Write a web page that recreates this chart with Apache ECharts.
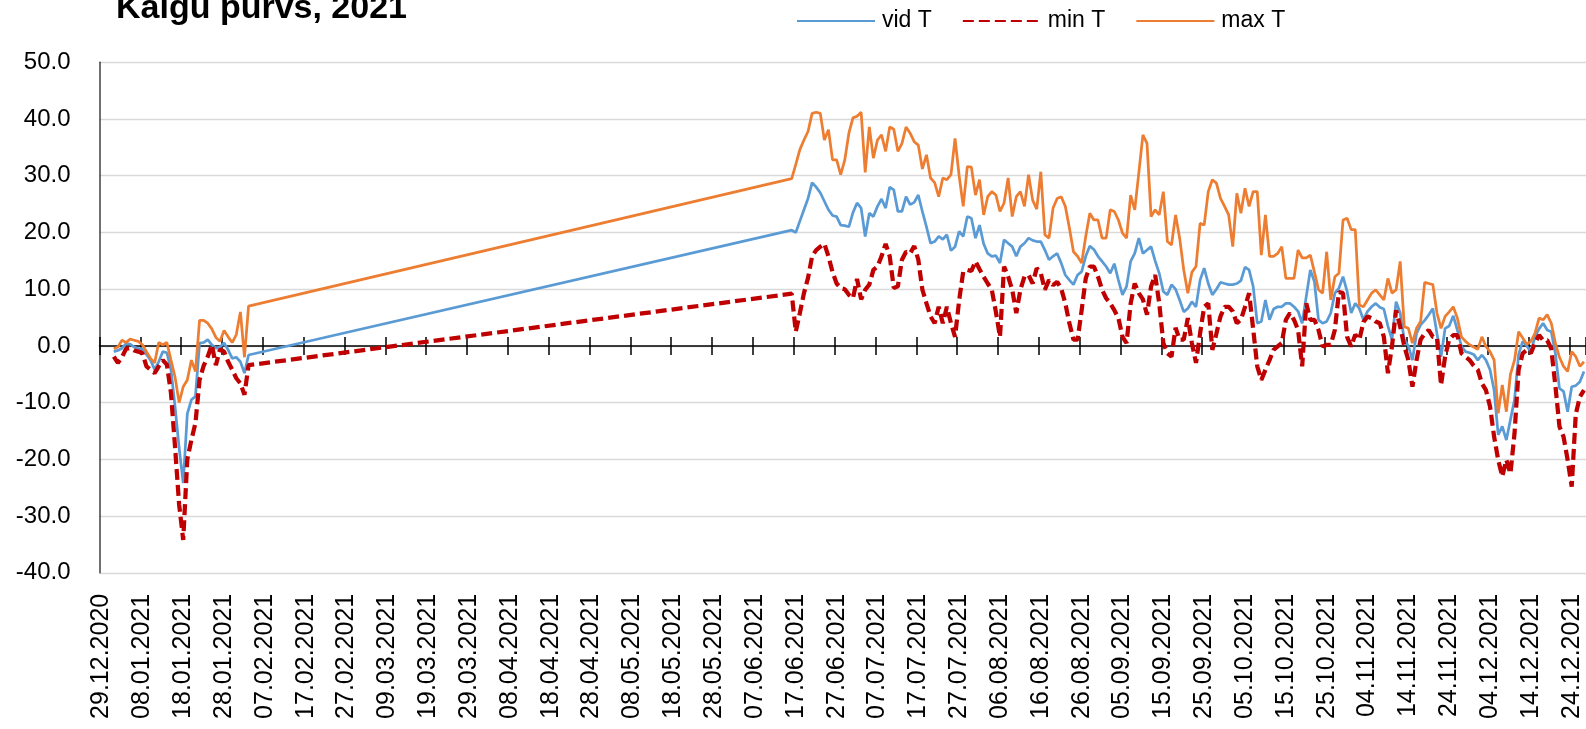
<!DOCTYPE html>
<html>
<head>
<meta charset="utf-8">
<script src="https://cdn.jsdelivr.net/npm/echarts/dist/echarts.min.js"></script>
<style>
html,body{margin:0;padding:0;background:#ffffff;}
#chart{width:1586px;height:729px;}
</style>
</head>
<body>
<div id="chart"></div>
<script>
// ---------------- data ----------------
const TITLE = 'Kalgu purvs, 2021';
const SERIES_NAMES = ['vid T', 'min T', 'max T'];
const AXIS_START = '29.12.2020';     // first category on the date axis
const AXIS_DAYS = 364;               // number of daily categories shown
const Y_MIN = -40, Y_MAX = 50, Y_STEP = 10;

// segment 1: 01.01.2021 – 03.02.2021
const SEG1_START = '01.01.2021';
const vidSeg1 = [-1.0, -0.8, -0.4, 0.4, 0.3, -0.2, -0.5, -0.5, -1.5, -2.5, -4.2, -2.8, -1.0, -1.2, -4.2, -10.7, -18.0, -24.2, -12.0, -9.5, -8.9, 0.5, 0.6, 1.1, 0.2, -0.4, -0.2, 0.5, -0.7, -2.2, -2.0, -2.8, -4.8, -1.6];
const minSeg1 = [-1.9, -3.0, -2.0, -0.5, -0.4, -0.8, -1.0, -1.3, -3.6, -4.2, -4.8, -3.6, -2.5, -3.3, -8.3, -17.8, -28.0, -34.2, -20.0, -16.6, -13.6, -6.0, -3.5, -1.9, 0.2, -3.4, -0.6, -1.0, -2.8, -4.2, -5.7, -6.6, -8.6, -3.4];
const maxSeg1 = [-0.5, -0.2, 1.0, 0.6, 1.2, 1.0, 0.8, 0.2, -1.0, -2.2, -3.0, 0.6, 0.2, 0.6, -2.5, -5.5, -10.0, -7.2, -6.0, -2.5, -4.5, 4.5, 4.5, 4.0, 3.0, 1.5, 0.8, 2.7, 1.6, 0.6, 2.0, 6.0, -2.0, 7.0];

// segment 2: 16.06.2021 – 26.12.2021
const SEG2_START = '16.06.2021';
const vidSeg2 = [
 20.4, 20, 22, 24, 26, 28.8, 28, 27, 25.5, 24,
 23, 22.8, 21.3, 21.2, 21, 23.5, 25.2, 24.3, 19.3, 23.4,
 22.8, 24.6, 25.9, 24.3, 28, 27.5, 23.7, 23.7, 26.3, 24.9,
 25.3, 26.6, 23.7, 21, 18.1, 18.4, 19.3, 18.8, 19.6, 16.8,
 17.5, 20.2, 19.3, 22.8, 22.5, 19, 21.3, 18, 16.3, 15.8,
 15.9, 14.6, 18.7, 18.1, 17.5, 15.8, 17.5, 18.1, 19, 18.6,
 18.4, 18.4, 16.9, 15.2, 15.8, 16.3, 14.6, 12.5, 11.6, 10.8,
 12.5, 13.1, 15.8, 17.6, 17, 15.8, 14.9, 14, 12.8, 14.5,
 11.6, 9, 10.5, 14.9, 16.3, 19, 16.3, 16.9, 17.5, 15,
 12.8, 9.6, 9, 10.8, 10, 8.1, 6, 6.6, 7.8, 6.9,
 11.6, 13.7, 11, 9, 10, 11.2, 11, 10.8, 10.8, 11,
 11.5, 13.9, 13.4, 10.5, 4, 4.3, 8.1, 4.6, 6.5, 6.9,
 6.9, 7.5, 7.5, 6.9, 6.1, 4, 8.7, 13.4, 11.3, 4.6,
 4, 4.3, 5.8, 9.3, 10.2, 12.2, 9.6, 5.8, 7.5, 6.6,
 4.6, 6.1, 6.9, 7.5, 6.8, 6.5, 3.5, 1.1, 7.8, 5.8,
 1.1, 0, -2.5, 2.2, 3.7, 4.5, 5.5, 6.6, 2.2, -1.9,
 3.1, 3.5, 5.3, 2.8, -0.1, -1, -1.2, -1.5, -2.5, -1.6,
 -2.5, -4.2, -7.8, -15.7, -14.2, -16.6, -13, -9.5, -1.5, 0.8,
 0, -1, 1.6, 3, 4, 2.8, 2.5, -1.3, -7.5, -8,
 -11.6, -7.2, -7, -6.3, -4.5
];
const minSeg2 = [
 9.2, 2.5, 5.8, 9.3, 12, 15.8, 16.9, 17.5, 18, 15.8,
 13, 11, 10.2, 10, 9, 8.4, 11.8, 8.2, 9.9, 10.8,
 13.4, 14, 15.8, 18, 15.8, 10.2, 10.5, 15.2, 16.6, 16.3,
 17.6, 15.2, 9.9, 7.5, 5.2, 4, 6.9, 4, 6.9, 4,
 1.6, 8, 13.1, 13.4, 13.2, 14.9, 13.5, 12.2, 11, 9.9,
 6, 1.6, 14, 12.2, 9.9, 5.8, 9.9, 12.2, 12.5, 11,
 13.7, 12.8, 9.9, 11.6, 10.7, 11.3, 10.1, 7.5, 4, 1.1,
 1.1, 6.3, 11.9, 14, 14, 12.2, 9.9, 8.4, 7.5, 6.3,
 4.9, 1.6, 0.5, 7.5, 11, 9.3, 8.2, 5.5, 10.5, 12.5,
 7.5, 0.5, -1.3, -1.9, 3.2, 1.1, 1.1, 4.9, 0.5, -3,
 2.2, 6.9, 7.5, -0.7, 2.2, 5.2, 6.9, 6.9, 6.1, 4,
 4.6, 6.9, 9.3, 3, -3.6, -6, -4.2, -2.5, -0.7, -0.1,
 0.5, 4.6, 5.8, 4.6, 2.8, -3.6, 7.5, 4.6, 4.6, 2.8,
 -0.1, 0.2, 0.2, 2.8, 9.5, 9.3, 1.6, -0.1, 2, 1.1,
 4.2, 5.2, 4.9, 4.3, 4, 1.6, -4.8, 0, 6.3, 3.4,
 0, -2.5, -7.2, -2.5, 1.1, 2.2, 2.8, 1.6, 1.5, -6.9,
 -1.9, 1.1, 1.9, 1.9, -1.3, -1.9, -2.5, -3.5, -4.2, -6.6,
 -7.8, -10.7, -16, -20.1, -23, -20.1, -22.5, -15.4, -4.2, -1.3,
 -0.7, -1.3, 0.5, 1.9, 1, 1, -0.5, -7, -14.2, -16,
 -20.1, -24.8, -12, -9, -7.8
];
const maxSeg2 = [
 29.5, 32, 34.6, 36.3, 37.8, 41, 41.2, 41, 36.3, 38.1,
 32.8, 32.8, 30.2, 32.8, 37.5, 40.2, 40.5, 41.2, 30.6, 38.6,
 33.1, 36.3, 37.2, 34.3, 38.6, 38.2, 34.3, 35.7, 38.6, 37.5,
 36, 35.4, 31.2, 33.7, 29.6, 28.8, 26.3, 29.6, 29.3, 30.2,
 36.6, 30, 24.6, 31.6, 31.5, 26.6, 29.3, 23.1, 26.3, 27.2,
 26.6, 23.7, 25.2, 29.6, 22.8, 26.3, 27.2, 24.6, 30.2, 25.7,
 24.1, 30.7, 19.6, 19, 24.3, 26, 26.3, 24.6, 20.8, 16.6,
 15.8, 14.6, 19.3, 23.4, 22.2, 22.2, 19, 19, 24, 23.7,
 22.2, 19.9, 19, 26.6, 24, 30.5, 37.2, 35.7, 22.8, 24,
 23.1, 27.2, 18.4, 17.8, 23.1, 19, 13.4, 9.3, 13, 14,
 21.6, 21.3, 27.2, 29.3, 28.7, 26, 24.6, 23.1, 17.5, 26.9,
 23.4, 27.8, 24.6, 27.2, 27.2, 16, 23.1, 15.8, 15.8, 16.3,
 17.5, 11.9, 11.9, 11.9, 16.9, 15.5, 15.5, 16, 13, 9.9,
 9.3, 16.6, 8.1, 12.2, 12.8, 22.2, 22.5, 20.5, 20.5, 7.2,
 6.9, 8.1, 9.3, 9.9, 9, 8.1, 11.9, 9.3, 9.9, 14.9,
 3.4, 3.1, 0.5, 3.1, 4.3, 11.2, 11, 10.8, 5.8, 3.1,
 5.2, 6, 6.9, 4.9, 1.6, 0.8, 0.2, -0.2, -0.6, 1.6,
 -0.1, -1, -2.5, -11.9, -6.9, -11.6, -5, -2.5, 2.5, 1.4,
 0.3, 0.8, 2.2, 4.9, 4.6, 5.5, 4, 0.5, -2, -3.6,
 -4.5, -1, -1.9, -3.6, -2.8
];

// ---------------- build ----------------
function parseDMY(s) { const p = s.split('.'); return Date.UTC(+p[2], +p[1] - 1, +p[0]); }
function fmtDMY(t) {
  const d = new Date(t);
  const dd = String(d.getUTCDate()).padStart(2, '0');
  const mm = String(d.getUTCMonth() + 1).padStart(2, '0');
  return dd + '.' + mm + '.' + d.getUTCFullYear();
}
const DAY = 86400000;
const t0 = parseDMY(AXIS_START);
const categories = [];
for (let i = 0; i < AXIS_DAYS; i++) categories.push(fmtDMY(t0 + i * DAY));

function buildSeries(segments) {
  const arr = new Array(AXIS_DAYS).fill(null);
  segments.forEach(([start, vals]) => {
    const off = Math.round((parseDMY(start) - t0) / DAY);
    vals.forEach((v, k) => { if (off + k < AXIS_DAYS) arr[off + k] = v; });
  });
  return arr;
}
const vidData = buildSeries([[SEG1_START, vidSeg1], [SEG2_START, vidSeg2]]);
const minData = buildSeries([[SEG1_START, minSeg1], [SEG2_START, minSeg2]]);
const maxData = buildSeries([[SEG1_START, maxSeg1], [SEG2_START, maxSeg2]]);

// ---------------- style ----------------
const FONT = "'Liberation Sans', Arial, Helvetica, sans-serif";
const LEGEND_FS = 23;

const chart = echarts.init(document.getElementById('chart'), null, { renderer: 'canvas' });
const tickLine = { color: '#000000', width: 1.5 };
const baseCat = { type: 'category', data: categories, boundaryGap: true };

chart.setOption({
  animation: false,
  backgroundColor: '#ffffff',
  title: {
    text: TITLE, left: 116, top: -8, padding: 0,
    textStyle: { fontFamily: FONT, fontWeight: 'bold', fontSize: 34, lineHeight: 34, color: '#000000' }
  },
  legend: {
    data: SERIES_NAMES, left: 796, top: 21 - LEGEND_FS / 2, padding: 0,
    itemWidth: 78, itemHeight: 14, itemGap: 30,
    itemStyle: { opacity: 0 },
    textStyle: { fontFamily: FONT, fontSize: LEGEND_FS, lineHeight: LEGEND_FS, color: '#000000', padding: [0, 0, 0, 2] }
  },
  grid: { left: 99.5, right: 0, top: 62.3, bottom: 156.2, outerBoundsMode: 'none', containLabel: false },
  xAxis: [
    Object.assign({}, baseCat, {
      position: 'bottom',
      axisLine: { show: false, onZero: false },
      axisTick: { show: false },
      splitLine: { show: false },
      axisLabel: { interval: 9, rotate: 90, margin: 21, fontFamily: FONT, fontSize: 25, color: '#000000' }
    }),
    Object.assign({}, baseCat, {
      position: 'bottom',
      axisLine: { show: true, onZero: true, onZeroAxisIndex: 0, lineStyle: tickLine },
      axisTick: { show: true, interval: 9, length: 9, lineStyle: tickLine },
      axisLabel: { show: false },
      splitLine: { show: false }
    }),
    Object.assign({}, baseCat, {
      position: 'top',
      axisLine: { show: false, onZero: true, onZeroAxisIndex: 0 },
      axisTick: { show: true, interval: 9, length: 9, lineStyle: tickLine },
      axisLabel: { show: false },
      splitLine: { show: false }
    })
  ],
  yAxis: {
    type: 'value', min: Y_MIN, max: Y_MAX, interval: Y_STEP,
    axisLine: { show: true, onZero: false, lineStyle: { color: '#404040', width: 1.5 } },
    axisTick: { show: false },
    splitLine: { show: true, lineStyle: { color: '#d9d9d9', width: 1.3 } },
    axisLabel: {
      margin: 29, fontFamily: FONT, fontSize: 24, color: '#000000',
      formatter: v => v.toFixed(1)
    }
  },
  series: [
    { name: SERIES_NAMES[0], type: 'line', data: vidData, xAxisIndex: 0, symbol: 'none', connectNulls: true,
      lineStyle: { color: '#5B9BD5', width: 2.75 }, itemStyle: { color: '#5B9BD5' } },
    { name: SERIES_NAMES[1], type: 'line', data: minData, xAxisIndex: 0, symbol: 'none', connectNulls: true,
      lineStyle: { color: '#C00000', width: 4.25, type: [11, 5] }, itemStyle: { color: '#C00000' } },
    { name: SERIES_NAMES[2], type: 'line', data: maxData, xAxisIndex: 0, symbol: 'none', connectNulls: true,
      lineStyle: { color: '#ED7D31', width: 2.75 }, itemStyle: { color: '#ED7D31' } }
  ]
});
</script>
</body>
</html>
